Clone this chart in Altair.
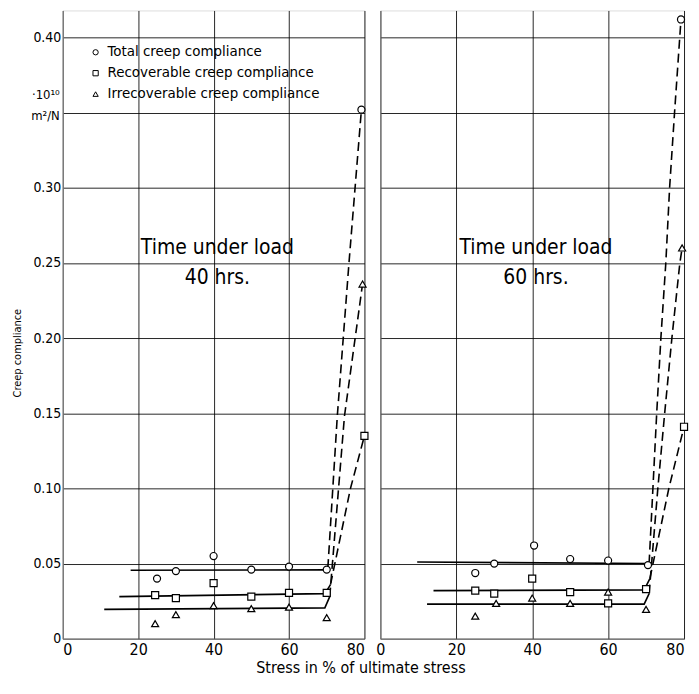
import altair as alt
import pandas as pd

FONT = "DejaVu Sans Condensed, Liberation Sans Narrow, Roboto Condensed, DejaVu Sans, sans-serif"

series = ["Total creep compliance", "Recoverable creep compliance", "Irrecoverable creep compliance"]
shapes = ["circle", "square", "triangle-up"]

# ---------- 40 hrs (left panel) measured points ----------
l_total_x = [25, 30, 40, 50, 60, 70, 79.2]
l_total_y = [0.040, 0.045, 0.055, 0.046, 0.048, 0.046, 0.352]
l_recov_x = [24.5, 30, 40, 50, 60, 70, 80]
l_recov_y = [0.029, 0.027, 0.037, 0.028, 0.0305, 0.0305, 0.135]
l_irrec_x = [24.5, 30, 40, 50, 60, 70, 79.5]
l_irrec_y = [0.010, 0.016, 0.022, 0.020, 0.021, 0.014, 0.236]

# left panel fitted curves (solid part, dashed part)
l_total_sx = [18, 70]
l_total_sy = [0.0455, 0.0458]
l_total_dx = [70.3, 72.8, 75.9, 79.2]
l_total_dy = [0.047, 0.148, 0.25, 0.352]
l_recov_sx = [15, 69.5, 71]
l_recov_sy = [0.028, 0.030, 0.036]
l_recov_dx = [71, 76.3, 80]
l_recov_dy = [0.036, 0.10, 0.135]
l_irrec_sx = [11, 69.5, 70.8]
l_irrec_sy = [0.0195, 0.0205, 0.028]
l_irrec_dx = [70.8, 74.7, 79.5]
l_irrec_dy = [0.028, 0.148, 0.236]

# ---------- 60 hrs (right panel) measured points ----------
r_total_x = [25, 30, 40.5, 50, 60, 70.5, 79.2]
r_total_y = [0.0437, 0.050, 0.062, 0.053, 0.052, 0.049, 0.412]
r_recov_x = [25, 30, 40, 50, 60, 70, 80]
r_recov_y = [0.032, 0.030, 0.040, 0.031, 0.0235, 0.033, 0.141]
r_irrec_x = [25, 30.5, 40, 50, 60, 70, 79.5]
r_irrec_y = [0.015, 0.0235, 0.027, 0.0235, 0.031, 0.0195, 0.26]

r_total_sx = [9.7, 70.5]
r_total_sy = [0.051, 0.050]
r_total_dx = [70.8, 71.8, 72.8, 73.9, 75.2, 76.2, 77.5, 79.2]
r_total_dy = [0.050, 0.10, 0.15, 0.20, 0.25, 0.30, 0.35, 0.412]
r_recov_sx = [14, 69.5, 71]
r_recov_sy = [0.032, 0.0325, 0.040]
r_recov_dx = [71, 76, 80]
r_recov_dy = [0.040, 0.10, 0.141]
r_irrec_sx = [12.3, 69.5, 70.8]
r_irrec_sy = [0.023, 0.023, 0.030]
r_irrec_dx = [70.8, 73.1, 74.9, 76.8, 78.9, 79.5]
r_irrec_dy = [0.030, 0.10, 0.15, 0.20, 0.25, 0.26]

panel_labels = ["Time under load\n40 hrs.", "Time under load\n60 hrs."]
y_ticks = [0, 0.05, 0.10, 0.15, 0.20, 0.25, 0.30, 0.35, 0.40]
x_ticks = [0, 20, 40, 60, 80]
y_title = "Creep compliance"
x_title = "Stress in % of ultimate stress"
unit_lines = ["·10¹⁰", "m²/N"]


def frame(xs_list, ys_list):
    rows = []
    for s, xs, ys in zip(series, xs_list, ys_list):
        for i, (a, b) in enumerate(zip(xs, ys)):
            rows.append({"stress": a, "value": b, "series": s, "idx": i})
    return pd.DataFrame(rows)


H = 631
GRID = dict(gridColor="black", gridWidth=1, gridOpacity=0.85)


def panel(pts, solid, dashed, label, left, width):
    xaxis_kw = dict(values=x_ticks, title=None, grid=True, ticks=False,
                    labelPadding=3, labelFontSize=16, labelFont=FONT, **GRID)
    if not left:
        xaxis_kw["labelAlign"] = {"condition": {"test": "datum.value == 80", "value": "right"},
                                  "value": "center"}
    xenc = alt.X("stress:Q", scale=alt.Scale(domain=[0, 80], nice=False),
                 axis=alt.Axis(**xaxis_kw))
    if left:
        yaxis = alt.Axis(values=y_ticks, grid=True, ticks=False, labelPadding=2,
                         labelFontSize=14, labelFont=FONT, title=None,
                         labelExpr="datum.value == 0 ? '0' : (abs(datum.value - 0.35) < 0.001 ? '' : format(datum.value, '.2f'))",
                         **GRID)
    else:
        yaxis = alt.Axis(values=y_ticks, grid=True, ticks=False, labels=False, title=None, **GRID)
    yenc = alt.Y("value:Q", scale=alt.Scale(domain=[0, 0.418], nice=False), axis=yaxis)

    solid_l = alt.Chart(solid).mark_line(color="black", strokeWidth=1.6).encode(
        x=xenc, y=yenc, detail="series:N", order="idx:Q")
    dashed_l = alt.Chart(dashed).mark_line(color="black", strokeWidth=1.6, strokeDash=[9, 5]).encode(
        x="stress:Q", y="value:Q", detail="series:N", order="idx:Q")
    points = alt.Chart(pts).mark_point(filled=True, fill="white", stroke="black",
                                       strokeWidth=1.2, size=50, opacity=1).encode(
        x="stress:Q", y="value:Q",
        shape=alt.Shape("series:N", scale=alt.Scale(domain=series, range=shapes), legend=None))
    txt = alt.Chart(pd.DataFrame({"t": [label]})).mark_text(
        font=FONT, fontSize=21, lineBreak="\n", lineHeight=30, color="black").encode(
        x=alt.datum(41), y=alt.datum(0.26), text="t:N")
    layers = [solid_l, dashed_l, points, txt]
    if left:
        for i, s in enumerate(series):
            layers.append(alt.Chart(pd.DataFrame({"t": [s]})).mark_point(
                filled=True, fill="white", stroke="black", strokeWidth=1, size=28, opacity=1,
                shape=shapes[i]).encode(x=alt.value(33), y=alt.value(42 + 21 * i)))
            layers.append(alt.Chart(pd.DataFrame({"t": [s]})).mark_text(
                font=FONT, fontSize=15, align="left", baseline="middle", color="black").encode(
                x=alt.value(45), y=alt.value(41 + 21 * i), text="t:N"))
        for u, yv in zip(unit_lines, [0.362, 0.348]):
            layers.append(alt.Chart(pd.DataFrame({"t": [u]})).mark_text(
                font=FONT, fontSize=13, align="right", baseline="middle", color="black").encode(
                x=alt.value(-3), y=alt.datum(yv), text="t:N"))
        layers.append(alt.Chart(pd.DataFrame({"t": [y_title]})).mark_text(
            font=FONT, fontSize=11, angle=270, align="center", baseline="middle", color="black").encode(
            x=alt.value(-45), y=alt.datum(0.19), text="t:N"))
    return alt.layer(*layers).properties(width=width, height=H)


left = panel(frame([l_total_x, l_recov_x, l_irrec_x], [l_total_y, l_recov_y, l_irrec_y]),
             frame([l_total_sx, l_recov_sx, l_irrec_sx], [l_total_sy, l_recov_sy, l_irrec_sy]),
             frame([l_total_dx, l_recov_dx, l_irrec_dx], [l_total_dy, l_recov_dy, l_irrec_dy]),
             panel_labels[0], True, 303)
right = panel(frame([r_total_x, r_recov_x, r_irrec_x], [r_total_y, r_recov_y, r_irrec_y]),
              frame([r_total_sx, r_recov_sx, r_irrec_sx], [r_total_sy, r_recov_sy, r_irrec_sy]),
              frame([r_total_dx, r_recov_dx, r_irrec_dx], [r_total_dy, r_recov_dy, r_irrec_dy]),
              panel_labels[1], False, 305)

chart = alt.hconcat(left, right, spacing=16, bounds="flush").properties(
    padding={"top": 0, "bottom": 0, "left": 3, "right": 0},
    title=alt.TitleParams(x_title, orient="bottom", anchor="middle",
                          font=FONT, fontSize=16, fontWeight="normal", offset=2, dx=10)
).configure_view(stroke="black", strokeWidth=1.5).configure_axis(
    domain=False, labelColor="black"
).configure(background="white")

chart.save("out.html", embed_options={"renderer": "svg", "actions": False})
